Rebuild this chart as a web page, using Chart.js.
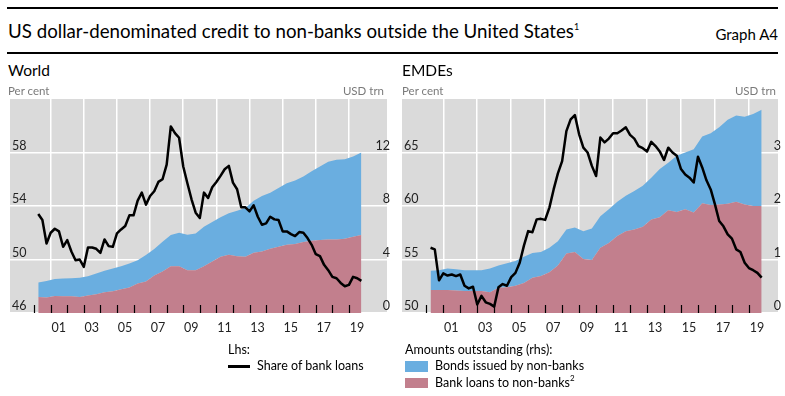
<!DOCTYPE html>
<html>
<head>
<meta charset="utf-8">
<script src="https://cdn.jsdelivr.net/npm/chart.js@4.4.1/dist/chart.umd.min.js"></script>
<style>
  body { margin: 0; background: #fff; font-family: Lato, "Noto Sans", sans-serif; color: #000; }
  #wrap { position: relative; width: 785px; height: 396px; overflow: hidden; }
  .rule { position: absolute; left: 7px; width: 771px; height: 2px; background: #000; }
  .txt { position: absolute; white-space: nowrap; line-height: 1; }
  .unit { font-size: 11.5px; color: #7a7a7a; }
  .leg { font-size: 12.5px; color: #000; }
  .sup { font-size: 8px; position: relative; top: -6px; }
  canvas { position: absolute; }
</style>
</head>
<body>
<div id="wrap">
  <canvas id="worldChart" style="left:0; top:88px" width="394" height="262"></canvas>
  <canvas id="emdeChart" style="left:395px; top:88px" width="390" height="262"></canvas>

  <div class="rule" style="top:7px"></div>
  <div class="rule" style="top:52px"></div>
  <div class="txt" style="left:8px; top:22px; font-size:18.7px">US dollar-denominated credit to non-banks outside the United States<span class="sup" style="font-size:9px; top:-8px">1</span></div>
  <div class="txt" style="right:7px; top:27px; font-size:15px">Graph A4</div>

  <div class="txt" style="left:8px; top:63px; font-size:15.5px">World</div>
  <div class="txt unit" style="left:8px; top:85px">Per cent</div>
  <div class="txt unit" style="right:401px; top:85px">USD trn</div>

  <div class="txt" style="left:402px; top:63px; font-size:15.5px">EMDEs</div>
  <div class="txt unit" style="left:402px; top:85px">Per cent</div>
  <div class="txt unit" style="right:9px; top:85px">USD trn</div>

  <div class="txt leg" style="left:228px; top:344px">Lhs:</div>
  <div style="position:absolute; left:228px; top:365px; width:22px; height:2.5px; background:#000"></div>
  <div class="txt leg" style="left:257px; top:360px">Share of bank loans</div>

  <div class="txt leg" style="left:405px; top:344px">Amounts outstanding (rhs):</div>
  <div style="position:absolute; left:405px; top:361px; width:23px; height:11px; background:#6aaee0"></div>
  <div class="txt leg" style="left:435px; top:360px">Bonds issued by non-banks</div>
  <div style="position:absolute; left:405px; top:378px; width:23px; height:10px; background:#c27f8d"></div>
  <div class="txt leg" style="left:435px; top:377px">Bank loans to non-banks<span class="sup">2</span></div>
</div>

<script>
// quarterly dates for the share line, half-yearly dates for the amounts
const quarters = [2000.25, 2000.5, 2000.75,
  2001, 2001.25, 2001.5, 2001.75, 2002, 2002.25, 2002.5, 2002.75,
  2003, 2003.25, 2003.5, 2003.75, 2004, 2004.25, 2004.5, 2004.75,
  2005, 2005.25, 2005.5, 2005.75, 2006, 2006.25, 2006.5, 2006.75,
  2007, 2007.25, 2007.5, 2007.75, 2008, 2008.25, 2008.5, 2008.75,
  2009, 2009.25, 2009.5, 2009.75, 2010, 2010.25, 2010.5, 2010.75,
  2011, 2011.25, 2011.5, 2011.75, 2012, 2012.25, 2012.5, 2012.75,
  2013, 2013.25, 2013.5, 2013.75, 2014, 2014.25, 2014.5, 2014.75,
  2015, 2015.25, 2015.5, 2015.75, 2016, 2016.25, 2016.5, 2016.75,
  2017, 2017.25, 2017.5, 2017.75, 2018, 2018.25, 2018.5, 2018.75,
  2019, 2019.25, 2019.5, 2019.75];

const halfYears = [2000.25, 2000.75, 2001.25, 2001.75, 2002.25, 2002.75,
  2003.25, 2003.75, 2004.25, 2004.75, 2005.25, 2005.75, 2006.25, 2006.75,
  2007.25, 2007.75, 2008.25, 2008.75, 2009.25, 2009.75, 2010.25, 2010.75,
  2011.25, 2011.75, 2012.25, 2012.75, 2013.25, 2013.75, 2014.25, 2014.75,
  2015.25, 2015.75, 2016.25, 2016.75, 2017.25, 2017.75, 2018.25, 2018.75,
  2019.25, 2019.75];

const tickYears = [2000, 2001, 2002, 2003, 2004, 2005, 2006, 2007, 2008, 2009,
  2010, 2011, 2012, 2013, 2014, 2015, 2016, 2017, 2018, 2019];

// World
const worldShare = [53.4, 52.95, 51.2, 52.0, 52.3, 52.1, 50.95, 51.45, 50.6, 49.95,
  50.0, 49.45, 50.9, 50.9, 50.8, 50.5, 51.5, 51.0, 50.95, 51.95,
  52.25, 52.5, 53.3, 53.3, 54.4, 55.0, 54.1, 54.75, 55.1, 55.8,
  56.0, 57.1, 59.95, 59.45, 59.1, 56.95, 55.7, 54.5, 53.5, 53.1,
  55.0, 54.6, 55.4, 55.8, 56.25, 56.75, 57.0, 55.75, 55.25, 53.9,
  53.9, 53.6, 54.05, 53.2, 52.6, 52.7, 53.2, 53.0, 52.95, 52.1,
  52.1, 51.9, 51.75, 52.05, 52.0, 51.6, 51.1, 50.4, 50.25, 49.6,
  49.2, 48.7, 48.6, 48.25, 48.0, 48.1, 48.7, 48.6, 48.4];
const worldLoans = [1.2, 1.15, 1.28, 1.25, 1.25, 1.2, 1.3, 1.4, 1.55, 1.63,
  1.78, 1.9, 2.2, 2.35, 2.8, 3.1, 3.5, 3.5, 3.2, 3.2,
  3.5, 3.85, 4.2, 4.35, 4.25, 4.2, 4.5, 4.6, 4.8, 4.95,
  5.1, 5.15, 5.3, 5.4, 5.45, 5.5, 5.5, 5.55, 5.7, 5.83];
const worldBonds = [1.08, 1.25, 1.27, 1.33, 1.35, 1.43, 1.45, 1.55, 1.6, 1.7,
  1.72, 1.8, 1.75, 1.98, 1.98, 2.23, 2.33, 2.5, 2.65, 2.75,
  2.95, 2.95, 2.95, 3.1, 3.4, 3.65, 3.9, 4.15, 4.2, 4.4,
  4.6, 4.75, 4.9, 5.2, 5.5, 5.8, 5.95, 5.95, 6.0, 6.17];

// EMDEs
const emdeShare = [56.1, 55.95, 53.05, 53.7, 53.5, 53.6, 53.45, 53.6, 52.55, 52.3,
  52.45, 50.8, 51.6, 51.0, 50.85, 50.6, 52.4, 52.7, 52.55, 53.35,
  53.75, 54.7, 56.3, 57.65, 57.55, 58.75, 58.8, 58.7, 59.85, 61.55,
  63.05, 64.2, 67.0, 68.1, 68.5, 66.7, 65.45, 65.0, 63.75, 62.8,
  66.4, 65.95, 66.3, 66.8, 66.8, 67.05, 67.35, 66.65, 66.3, 65.6,
  65.4, 65.1, 66.0, 65.6, 65.1, 64.3, 65.45, 65.0, 64.7, 63.45,
  62.95, 62.65, 62.2, 64.6, 63.6, 62.4, 61.55, 60.15, 58.6, 58.1,
  57.35, 56.95, 55.95, 55.7, 54.7, 54.2, 54.0, 53.75, 53.3];
const emdeLoans = [0.43, 0.43, 0.43, 0.42, 0.41, 0.41, 0.41, 0.39, 0.47, 0.48,
  0.51, 0.56, 0.66, 0.69, 0.76, 0.89, 1.11, 1.14, 1.01, 0.99,
  1.22, 1.31, 1.44, 1.53, 1.56, 1.61, 1.75, 1.79, 1.92, 1.89,
  1.94, 1.88, 2.05, 2.02, 2.03, 2.04, 2.08, 2.03, 2.0, 2.0];
const emdeBonds = [0.36, 0.37, 0.40, 0.40, 0.39, 0.39, 0.39, 0.44, 0.42, 0.45,
  0.46, 0.49, 0.46, 0.45, 0.46, 0.45, 0.45, 0.46, 0.52, 0.59,
  0.59, 0.63, 0.64, 0.66, 0.72, 0.77, 0.78, 0.90, 0.89, 1.05,
  1.06, 1.18, 1.25, 1.34, 1.44, 1.57, 1.61, 1.64, 1.72, 1.80];

const BLUE = '#6aaee0';
const PINK = '#c27f8d';
const GREY = '#dadada';

Chart.defaults.font.family = 'Lato, "Noto Sans", sans-serif';

const pts = (xs, ys) => xs.map((x, i) => ({ x: x, y: ys[i] }));

// grey panel, plus the small year marks along the bottom
const panelPlugin = {
  id: 'panel',
  beforeDraw(chart) {
    const a = chart.chartArea, ctx = chart.ctx;
    ctx.save();
    ctx.fillStyle = GREY;
    ctx.fillRect(a.left, a.top, a.right - a.left, a.bottom - a.top);
    ctx.restore();
  },
  afterDatasetsDraw(chart) {
    const a = chart.chartArea, ctx = chart.ctx, xs = chart.scales.x;
    ctx.save();
    ctx.strokeStyle = '#000';
    ctx.lineWidth = 1.2;
    tickYears.forEach(yr => {
      const px = Math.round(xs.getPixelForValue(yr)) + 0.5;
      ctx.beginPath();
      ctx.moveTo(px, a.bottom);
      ctx.lineTo(px, a.bottom - 8);
      ctx.stroke();
    });
    ctx.restore();
  }
};

function makePanel(id, share, loans, bonds, cfg) {
  const tickFont = { size: 12.5 };
  new Chart(document.getElementById(id), {
    type: 'line',
    data: {
      datasets: [
        {
          label: 'Share of bank loans',
          data: pts(quarters, share),
          yAxisID: 'yL',
          borderColor: '#000',
          borderWidth: 2.5,
          borderJoinStyle: 'round',
          pointRadius: 0,
          fill: false,
          order: 0
        },
        {
          // stacked first (lower order), so it sits at the bottom
          label: 'Bank loans to non-banks',
          data: pts(halfYears, loans),
          yAxisID: 'yR',
          backgroundColor: PINK,
          borderColor: 'rgba(0,0,0,0)',
          borderWidth: 0,
          pointRadius: 0,
          fill: 'origin',
          stack: 'amt',
          order: 1
        },
        {
          label: 'Bonds issued by non-banks',
          data: pts(halfYears, bonds),
          yAxisID: 'yR',
          backgroundColor: BLUE,
          borderColor: 'rgba(0,0,0,0)',
          borderWidth: 0,
          pointRadius: 0,
          fill: '-1',
          stack: 'amt',
          order: 2
        }
      ]
    },
    options: {
      responsive: false,
      animation: false,
      layout: { padding: cfg.padding },
      plugins: { legend: { display: false }, tooltip: { enabled: false } },
      scales: {
        x: {
          type: 'linear',
          min: cfg.xMin,
          max: cfg.xMax,
          afterBuildTicks: s => { s.ticks = tickYears.map(v => ({ value: v })); },
          grid: {
            color: c => (c.tick && c.tick.value % 2 === 1) ? '#fff' : 'rgba(0,0,0,0)',
            lineWidth: 1.5,
            drawTicks: false
          },
          border: { display: false },
          ticks: {
            autoSkip: false,
            maxRotation: 0,
            padding: 7,
            labelOffset: 8,
            color: '#222',
            font: tickFont,
            callback: v => (v % 2 === 1) ? String(v).slice(2) : ''
          }
        },
        yL: {
          position: 'left',
          min: cfg.lMin,
          max: cfg.lMax,
          grid: {
            color: c => (c.tick && c.tick.value === cfg.lMax) ? 'rgba(0,0,0,0)' : '#fff',
            lineWidth: 1.5,
            drawTicks: false
          },
          border: { display: false },
          ticks: {
            stepSize: cfg.lStep,
            mirror: true,
            padding: 2,
            labelOffset: -7,
            color: '#222',
            font: tickFont,
            callback: v => v === cfg.lMax ? '' : v
          }
        },
        yR: {
          position: 'right',
          stacked: true,
          min: 0,
          max: cfg.rMax,
          grid: { display: false, drawTicks: false },
          border: { display: false },
          ticks: {
            stepSize: cfg.rStep,
            mirror: true,
            padding: 3,
            labelOffset: -7,
            color: '#222',
            font: tickFont,
            callback: v => v === cfg.rMax ? '' : v
          }
        }
      }
    },
    plugins: [panelPlugin]
  });
}

makePanel('worldChart', worldShare, worldLoans, worldBonds, {
  padding: { left: 6, right: 1, top: 11, bottom: 8 },
  xMin: 1998.545, xMax: 2021.297,
  lMin: 46, lMax: 62, lStep: 4,
  rMax: 16, rStep: 4
});

makePanel('emdeChart', emdeShare, emdeLoans, emdeBonds, {
  padding: { left: 3, right: 1, top: 11, bottom: 8 },
  xMin: 1998.569, xMax: 2020.713,
  lMin: 50, lMax: 70, lStep: 5,
  rMax: 4, rStep: 1
});
</script>
</body>
</html>
